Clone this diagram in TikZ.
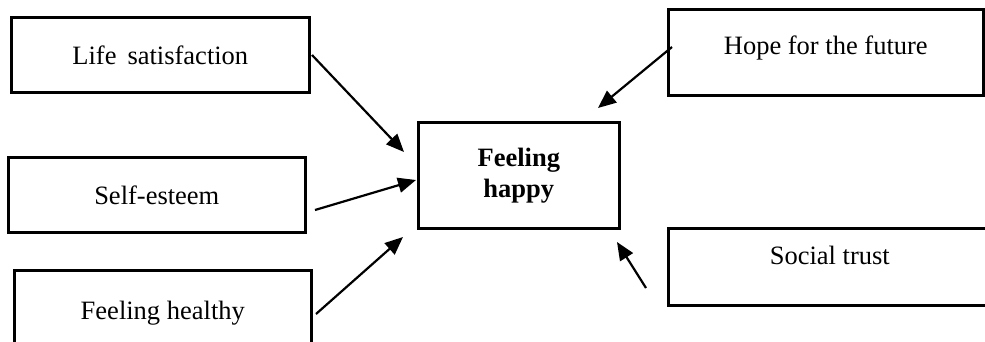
\documentclass[tikz,border=0pt]{standalone}
\usepackage{fontspec}
\setmainfont{Liberation Serif}
\usetikzlibrary{arrows.meta}
\begin{document}
\begin{tikzpicture}[x=1pt,y=-1pt,
  box/.style={draw,line width=2.6pt,inner sep=0pt,anchor=north west,
    font=\fontsize{26.5}{31}\selectfont},
  arr/.style={line width=2.2pt,-{Triangle[length=18pt,width=15pt]}}]
\useasboundingbox (0,0) rectangle (985,341);
\clip (0,0) rectangle (985,341);
\node[box,minimum width=298pt,minimum height=75pt,text height=47pt,text depth=28pt] (life) at (10,16) {Life\,\ satisfaction};
\node[box,minimum width=297pt,minimum height=75pt,text height=47pt,text depth=28pt] (self) at (7,156) {Self-esteem};
\node[box,minimum width=297pt,minimum height=91pt,text height=49pt,text depth=42pt] (health) at (13,269) {Feeling healthy};
\node[box,minimum width=201pt,minimum height=106pt,align=center,font=\fontsize{26.5}{31}\selectfont\bfseries] (happy) at (417,121) {Feeling\\happy};
\node[box,minimum width=315pt,minimum height=86pt,text height=45pt,text depth=41pt] (hope) at (667,8) {Hope for the future};
\node[box,minimum width=323pt,minimum height=77pt,text height=36pt,text depth=41pt] (trust) at (667,227) {Social trust};
\coordinate (a1) at (312,55);  \coordinate (b1) at (404,152);
\coordinate (a2) at (315,210); \coordinate (b2) at (416,180);
\coordinate (a3) at (316,314); \coordinate (b3) at (403,237);
\coordinate (a4) at (672,47);  \coordinate (b4) at (598,108);
\coordinate (a5) at (646,288); \coordinate (b5) at (617,242);
\draw[arr] (a1) -- (b1);
\draw[arr] (a2) -- (b2);
\draw[arr] (a3) -- (b3);
\draw[arr] (a4) -- (b4);
\draw[arr] (a5) -- (b5);
\end{tikzpicture}
\end{document}
